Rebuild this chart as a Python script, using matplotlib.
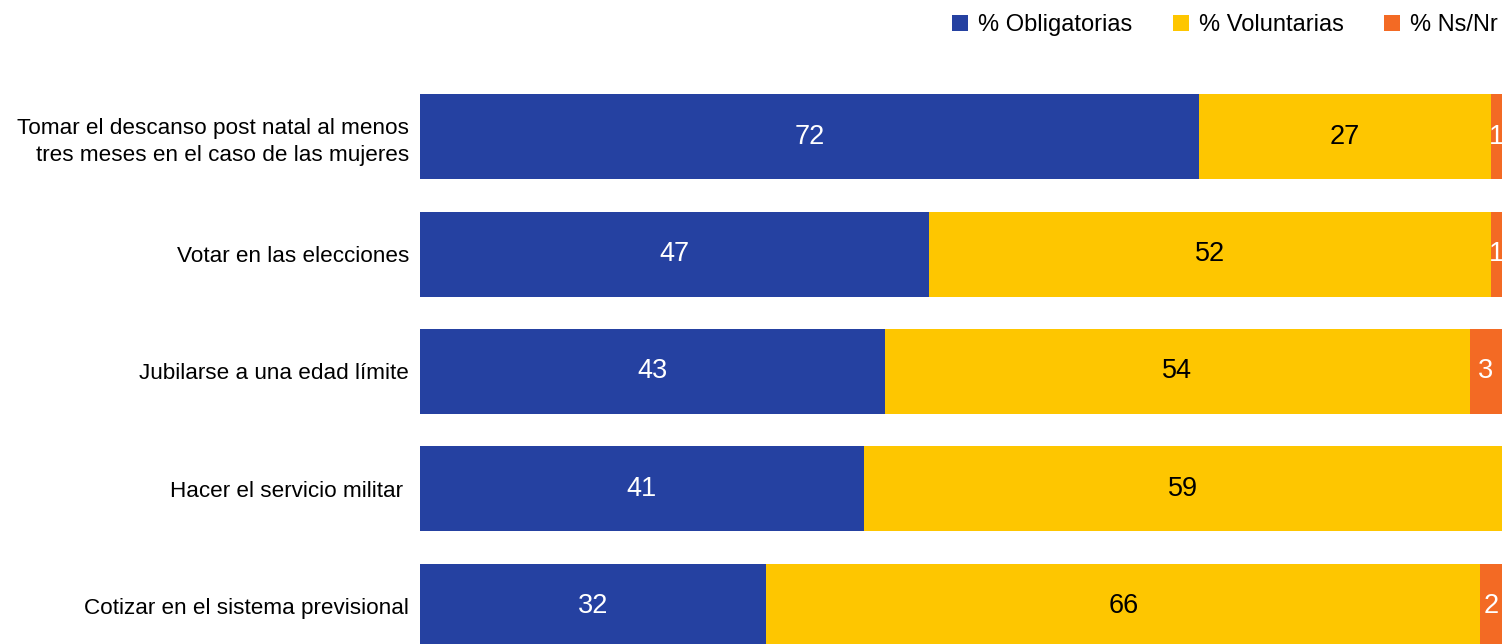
import numpy as np
import matplotlib.pyplot as plt
from matplotlib.patches import Patch

plt.rcParams['font.family'] = ['Liberation Sans', 'DejaVu Sans']

# Datos
categorias = [
    'Tomar el descanso post natal al menos\ntres meses en el caso de las mujeres',
    'Votar en las elecciones',
    'Jubilarse a una edad límite',
    'Hacer el servicio militar ',
    'Cotizar en el sistema previsional',
]
obligatorias = [72, 47, 43, 41, 32]
voluntarias = [27, 52, 54, 59, 66]
ns_nr = [1, 1, 3, 0, 2]

series = ['% Obligatorias', '% Voluntarias', '% Ns/Nr']
colores = ['#2541a1', '#fec600', '#f36a24']
color_texto = ['white', 'black', 'white']

fig = plt.figure(figsize=(15.03, 6.44), dpi=100)
ax = fig.add_axes([420 / 1503, 0, 1082 / 1503, 1])

y = np.arange(len(categorias))
izq = np.zeros(len(categorias))
for nombre, vals, col, tcol in zip(series, [obligatorias, voluntarias, ns_nr], colores, color_texto):
    vals = np.array(vals, dtype=float)
    ax.barh(y, vals, left=izq, height=0.725, color=col, label=nombre)
    for yi, l, v in zip(y, izq, vals):
        if v > 0:
            ax.text(l + v / 2, yi, f'{int(v)}', ha='center', va='center',
                    color=tcol, fontsize=19.5)
    izq += vals

ax.set_xlim(0, 100)
ax.set_ylim(4.324, -1.168)
ax.set_yticks(y)
ax.set_yticklabels(categorias, fontsize=16.2, linespacing=1.35)
ax.tick_params(axis='y', length=0, pad=8)
ax.set_xticks([])
for s in ax.spines.values():
    s.set_visible(False)

handles = [Patch(facecolor=c, edgecolor='none') for c in colores]
fig.legend(handles, series, loc='upper right', bbox_to_anchor=(1.003, 0.993),
           ncol=3, frameon=False, fontsize=17, handlelength=0.68,
           handleheight=0.68, handletextpad=0.42, columnspacing=1.72,
           borderaxespad=0.0)

fig.savefig('out.png', dpi=100)
